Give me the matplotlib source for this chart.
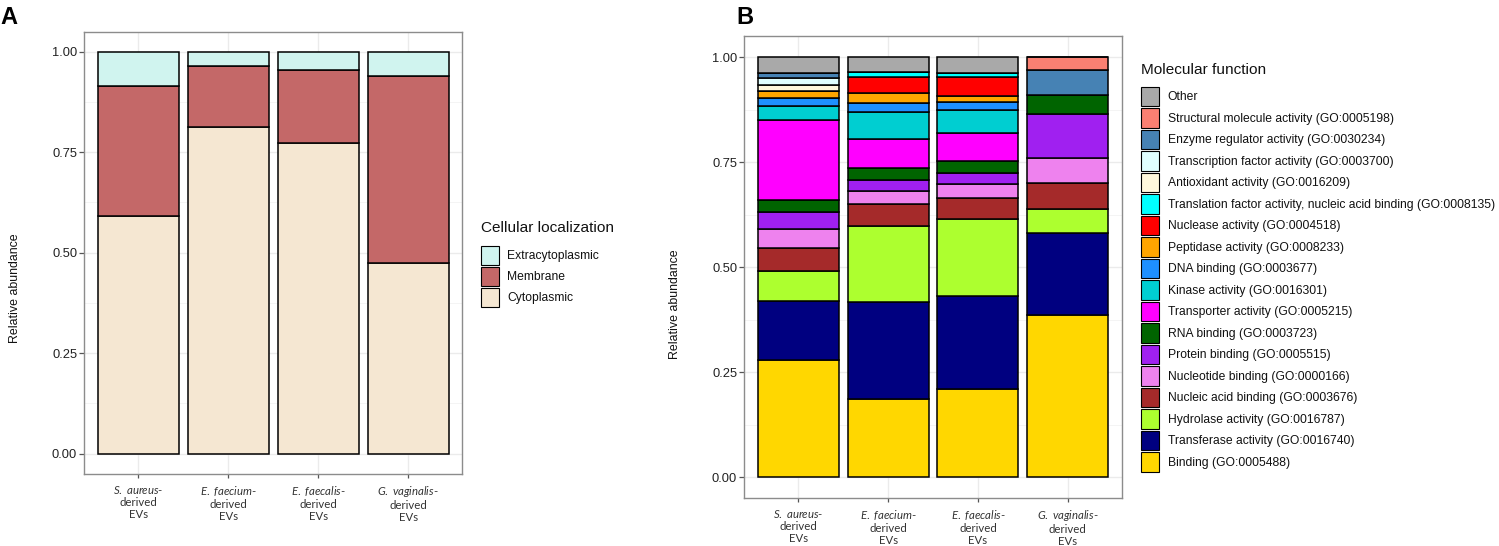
import matplotlib
matplotlib.use("Agg")
import matplotlib.pyplot as plt
from matplotlib.patches import Patch
import numpy as np

plt.rcParams['font.family'] = ['Liberation Sans', 'DejaVu Sans']
plt.rcParams['mathtext.fontset'] = 'custom'
plt.rcParams['mathtext.it'] = 'Lato:italic'
plt.rcParams['mathtext.rm'] = 'Lato'

# ---------------- data ----------------
groups = ["S. aureus", "E. faecium", "E. faecalis", "G. vaginalis"]
tick_labels = [r"$\it{S.\ aureus}$-" + "\nderived\nEVs",
               r"$\it{E.\ faecium}$-" + "\nderived\nEVs",
               r"$\it{E.\ faecalis}$-" + "\nderived\nEVs",
               r"$\it{G.\ vaginalis}$-" + "\nderived\nEVs"]

# Panel A: cellular localization (bottom -> top)
loc_names = ["Cytoplasmic", "Membrane", "Extracytoplasmic"]
cytoplasmic = [0.592, 0.813, 0.773, 0.474]
membrane = [0.322, 0.151, 0.182, 0.466]
extracytoplasmic = [0.086, 0.036, 0.045, 0.060]
loc_colors = ["#F5E7D2", "#C46868", "#D0F4EF"]

# Panel B: molecular function (bottom -> top)
mf_names = ["Binding (GO:0005488)",
            "Transferase activity (GO:0016740)",
            "Hydrolase activity (GO:0016787)",
            "Nucleic acid binding (GO:0003676)",
            "Nucleotide binding (GO:0000166)",
            "Protein binding (GO:0005515)",
            "RNA binding (GO:0003723)",
            "Transporter activity (GO:0005215)",
            "Kinase activity (GO:0016301)",
            "DNA binding (GO:0003677)",
            "Peptidase activity (GO:0008233)",
            "Nuclease activity (GO:0004518)",
            "Translation factor activity, nucleic acid binding (GO:0008135)",
            "Antioxidant activity (GO:0016209)",
            "Transcription factor activity (GO:0003700)",
            "Enzyme regulator activity (GO:0030234)",
            "Structural molecule activity (GO:0005198)",
            "Other"]
binding      = [0.279, 0.186, 0.210, 0.386]
transferase  = [0.141, 0.232, 0.222, 0.195]
hydrolase    = [0.072, 0.180, 0.182, 0.059]
nucleic_acid = [0.054, 0.052, 0.050, 0.060]
nucleotide   = [0.044, 0.032, 0.034, 0.060]
protein      = [0.041, 0.025, 0.027, 0.105]
rna          = [0.029, 0.029, 0.028, 0.045]
transporter  = [0.191, 0.070, 0.067, 0.000]
kinase       = [0.032, 0.064, 0.055, 0.000]
dna          = [0.019, 0.021, 0.019, 0.000]
peptidase    = [0.018, 0.025, 0.015, 0.000]
nuclease     = [0.000, 0.038, 0.044, 0.000]
translation  = [0.000, 0.012, 0.010, 0.000]
antioxidant  = [0.015, 0.000, 0.000, 0.000]
transcription= [0.015, 0.000, 0.000, 0.000]
enzyme_reg   = [0.013, 0.000, 0.000, 0.060]
structural   = [0.000, 0.000, 0.000, 0.030]
other        = [0.037, 0.034, 0.037, 0.000]
mf_colors = ["#FFD700", "#000080", "#ADFF2F", "#A52A2A", "#EE82EE", "#A020F0",
             "#006400", "#FF00FF", "#00CED1", "#1E90FF", "#FFA500", "#FF0000",
             "#00FFFF", "#FFF8DC", "#E0FFFF", "#4682B4", "#FA8072", "#A9A9A9"]

# ---------------- figure ----------------
W, H = 1499, 546
fig = plt.figure(figsize=(W / 100, H / 100), dpi=100)

def px_axes(l, t, r, b):
    return fig.add_axes([l / W, 1 - b / H, (r - l) / W, (b - t) / H])

axA = px_axes(84.3, 31.6, 462.3, 473.8)
axB = px_axes(744.3, 36.3, 1121.7, 498.3)

x = np.arange(1, 5)

def style(ax):
    ax.set_xlim(0.4, 4.6)
    ax.set_ylim(-0.05, 1.05)
    ax.set_yticks([0, 0.25, 0.5, 0.75, 1.0])
    ax.set_yticklabels(["0.00", "0.25", "0.50", "0.75", "1.00"])
    ax.set_yticks([0.125, 0.375, 0.625, 0.875], minor=True)
    ax.set_xticks(x)
    ax.set_xticklabels(tick_labels, fontsize=8.2, color="#333333", linespacing=1.12,
                       family="Lato")
    ax.grid(True, which="major", color="#EBEBEB", lw=1.0, zorder=0)
    ax.grid(True, which="minor", axis="y", color="#F3F3F3", lw=0.6, zorder=0)
    ax.set_axisbelow(True)
    for s in ax.spines.values():
        s.set_color("#8C8C8C")
        s.set_linewidth(1.0)
    ax.tick_params(axis="y", which="major", length=3.6, width=0.9, color="#555555",
                   labelsize=9.3, labelcolor="#222222", pad=1.5)
    ax.tick_params(axis="y", which="minor", length=0)
    ax.tick_params(axis="x", which="major", length=3.0, width=0.9, color="#555555",
                   pad=4.0)
    ax.set_ylabel("Relative abundance", fontsize=8.9, color="#111111")

style(axA)
style(axB)
axA.yaxis.set_label_coords(-0.168, 0.42)
axB.yaxis.set_label_coords(-0.168, 0.42)

# Panel A bars
bottom = np.zeros(4)
for vals, col, name in zip([cytoplasmic, membrane, extracytoplasmic], loc_colors, loc_names):
    axA.bar(x, vals, width=0.9, bottom=bottom, color=col, edgecolor="black",
            linewidth=1.1, label=name, zorder=2)
    bottom += np.array(vals)

# Panel B bars
mf_series = [binding, transferase, hydrolase, nucleic_acid, nucleotide, protein, rna,
             transporter, kinase, dna, peptidase, nuclease, translation, antioxidant,
             transcription, enzyme_reg, structural, other]
bottom = np.zeros(4)
for vals, col, name in zip(mf_series, mf_colors, mf_names):
    v = np.array(vals)
    axB.bar(x, v, width=0.9, bottom=bottom, color=col, edgecolor="black",
            linewidth=1.1, label=name, zorder=2)
    bottom += v

# Legends
def add_legend(names, colors, left_px, top_px, title, title_y_px, key_h_px):
    handles = [Patch(facecolor=c, edgecolor="black", linewidth=0.8) for c in colors]
    fs = 8.7
    fspx = fs * 100 / 72
    # effective key height = fontsize * (0.65*hh + 0.245)
    hh = (key_h_px / fspx - 0.245) / 0.65
    leg = fig.legend(handles[::-1], names[::-1], loc="upper left",
                     bbox_to_anchor=(left_px / W, 1 - top_px / H),
                     bbox_transform=fig.transFigure, frameon=False, fontsize=fs,
                     handlelength=18 / fspx, handleheight=hh,
                     labelspacing=1.8 / fspx, handletextpad=8.5 / fspx,
                     borderpad=0, borderaxespad=0)
    for t in leg.get_texts():
        t.set_color("#111111")
    fig.text(left_px / W, 1 - title_y_px / H, title, fontsize=11.1, ha="left",
             va="center", color="#111111")
    return leg

add_legend(loc_names, loc_colors, 481, 245.7, "Cellular localization", 228, 19.3)
add_legend(mf_names, mf_colors, 1141, 86.7, "Molecular function", 70, 19.7)

# Panel letters
fig.text(0 / W, 1 - 17 / H, "A", fontsize=17, fontweight="bold", ha="left", va="center")
fig.text(736 / W, 1 - 17 / H, "B", fontsize=17, fontweight="bold", ha="left", va="center")

fig.savefig("out.png", dpi=100, facecolor="white")
